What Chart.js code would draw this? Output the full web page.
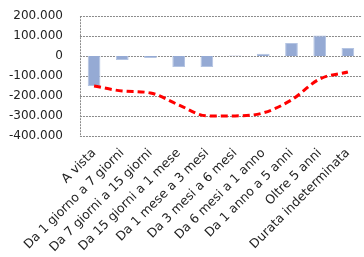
<!DOCTYPE html>
<html>
<head>
<meta charset="utf-8">
<script src="https://cdn.jsdelivr.net/npm/chart.js@4.4.0/dist/chart.umd.min.js"></script>
<style>
    html, body { margin: 0; padding: 0; background: #fff; }
    #wrap { width: 364px; height: 257px; }
</style>
</head>
<body>
<div id="wrap"><canvas id="chart" width="364" height="257"></canvas></div>
<script>
// categories (maturity buckets)
const categories = [
    'A vista',
    'Da 1 giorno a 7 giorni',
    'Da 7 giorni a 15 giorni',
    'Da 15 giorni a 1 mese',
    'Da 1 mese a 3 mesi',
    'Da 3 mesi a 6 mesi',
    'Da 6 mesi a 1 anno',
    'Da 1 anno a 5 anni',
    'Oltre 5 anni',
    'Durata indeterminata'
];

// net position per bucket (bars)
const gapValues = [-150000, -20000, -10000, -55000, -55000, 3000, 12000, 65000, 103000, 40000];

// cumulative position (dashed line)
const cumulativeValues = [-150000, -175000, -185000, -245000, -300000, -300000, -285000, -220000, -115000, -80000];

const yMin = -400000;
const yMax = 200000;
const yStep = 100000;

function formatNumber(v) {
    const sign = v < 0 ? '-' : '';
    return sign + Math.abs(v).toString().replace(/\B(?=(\d{3})+(?!\d))/g, '.');
}

// dotted gridlines + left border, drawn through the y scale
const dottedGrid = {
    id: 'dottedGrid',
    beforeDatasetsDraw(chart) {
        const { ctx, chartArea, scales } = chart;
        const y = scales.y;
        ctx.save();
        ctx.strokeStyle = '#8a8a8a';
        ctx.lineWidth = 1;
        ctx.setLineDash([2, 1]);
        y.ticks.forEach(t => {
            const py = Math.round(y.getPixelForValue(t.value)) + 0.5;
            ctx.beginPath();
            ctx.moveTo(chartArea.left, py);
            ctx.lineTo(chartArea.right, py);
            ctx.stroke();
        });
        const px = Math.round(chartArea.left) + 0.5;
        ctx.beginPath();
        ctx.moveTo(px, chartArea.top);
        ctx.lineTo(px, chartArea.bottom);
        ctx.stroke();
        ctx.restore();
    }
};

const ctx = document.getElementById('chart').getContext('2d');

new Chart(ctx, {
    type: 'bar',
    data: {
        labels: categories,
        datasets: [
            {
                type: 'line',
                data: cumulativeValues,
                borderColor: '#FF0000',
                borderWidth: 3,
                borderDash: [7, 4],
                pointRadius: 0,
                tension: 0.4,
                cubicInterpolationMode: 'monotone',
                fill: false,
                order: 0
            },
            {
                type: 'bar',
                data: gapValues,
                backgroundColor: '#95AAD4',
                borderColor: '#B4C4E2',
                borderWidth: 1,
                barPercentage: 0.45,
                categoryPercentage: 1,
                order: 1
            }
        ]
    },
    options: {
        responsive: false,
        animation: false,
        layout: {
            padding: { left: 0, right: 2, top: 0, bottom: 0 }
        },
        plugins: {
            legend: { display: false },
            tooltip: { enabled: false }
        },
        scales: {
            x: {
                grid: { display: false },
                border: { display: false },
                ticks: {
                    color: '#222',
                    font: { family: 'DejaVu Sans', size: 12.5 },
                    minRotation: 45,
                    maxRotation: 45,
                    autoSkip: false,
                    padding: 2
                }
            },
            y: {
                min: yMin,
                max: yMax,
                grid: { display: false },
                border: { display: false },
                ticks: {
                    stepSize: yStep,
                    color: '#222',
                    padding: 9,
                    font: { family: 'DejaVu Sans', size: 12 },
                    callback: v => formatNumber(v)
                }
            }
        }
    },
    plugins: [dottedGrid]
});
</script>
</body>
</html>
